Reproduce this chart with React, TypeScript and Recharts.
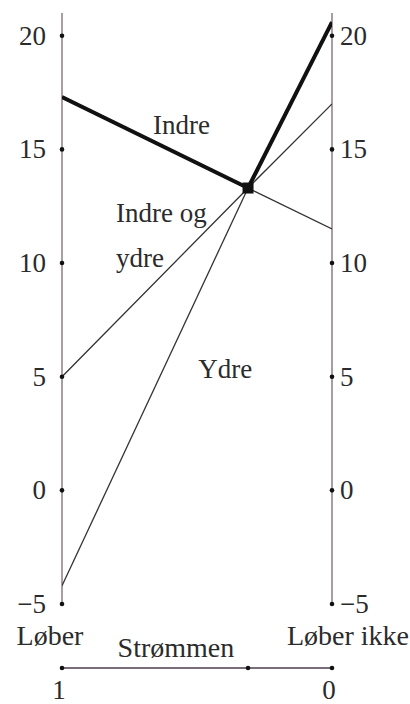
import React from 'react';
import { ComposedChart, Line, XAxis, YAxis, ReferenceLine, ReferenceDot, Scatter } from 'recharts';

// x: 1 = "Løber" (left), 0 = "Løber ikke" (right)
const positions = [1, 0.311, 0];
const indre = [17.3, 13.3, 11.5];
const indreOgYdre = [5, 13.3, 17];
const ydre = [-4.2, 13.3, 20.6];

const yTicks = [-5, 0, 5, 10, 15, 20];
const xTicks = [1, 0.311, 0];
const xTickLabels: Record<string, string> = { '1': '1', '0': '0' };

const meeting = [{ x: 0.311, y: 13.3 }];

const curveLabels = [
  { text: 'Indre', x: 0.663, y: 15.68 },
  { text: 'Indre og', x: 0.8, y: 11.81 },
  { text: 'ydre', x: 0.8, y: 9.83 },
  { text: 'Ydre', x: 0.495, y: 4.94 },
];

const bottomLabels = [
  { text: 'Løber', x: 1, y: -6.8, dx: -12 },
  { text: 'Strømmen', x: 0.578, y: -7.33, dx: 0 },
  { text: 'Løber ikke', x: 0, y: -6.8, dx: 16 },
];

const data = positions.map((x, i) => ({
  x,
  indreThick: i <= 1 ? indre[i] : null,
  indreThin: i >= 1 ? indre[i] : null,
  ioy: indreOgYdre[i],
  ydreThin: i <= 1 ? ydre[i] : null,
  ydreThick: i >= 1 ? ydre[i] : null,
}));

const FONT = "'Liberation Serif', 'Times New Roman', serif";
const TEXT = '#2b2b2b';
const AXIS = '#8b7d80';

const fmt = (v: number) => (v < 0 ? '\u2212' + Math.abs(v) : String(v));

const LeftTick = (p: any) => (
  <g>
    <circle cx={p.x} cy={p.y} r={2.3} fill="#111" />
    <text x={p.x - 16} y={p.y + 9} textAnchor="end" fontSize={27} fontFamily={FONT} fill={TEXT}>
      {fmt(p.payload.value)}
    </text>
  </g>
);

const RightTick = (p: any) => (
  <g>
    <circle cx={p.x} cy={p.y} r={2.3} fill="#111" />
    <text x={p.x + 8} y={p.y + 9} textAnchor="start" fontSize={27} fontFamily={FONT} fill={TEXT}>
      {fmt(p.payload.value)}
    </text>
  </g>
);

const BottomTick = (p: any) => {
  const key = String(Math.round(p.payload.value * 1000) / 1000);
  const lbl = xTickLabels[key];
  return (
    <g>
      <circle cx={p.x} cy={p.y} r={2.3} fill="#111" />
      {lbl ? (
        <text x={p.x - 3} y={p.y + 31} textAnchor="middle" fontSize={27} fontFamily={FONT} fill={TEXT}>
          {lbl}
        </text>
      ) : null}
    </g>
  );
};

const PlainLabel = (props: any) => {
  const vb = props.viewBox || {};
  const x = (vb.x || 0) + (vb.width || 0) / 2 + (props.dx || 0);
  const y = (vb.y || 0) + (vb.height || 0) / 2;
  return (
    <text x={x} y={y} textAnchor={props.anchor} fontSize={props.size} fontFamily={FONT} fill={TEXT}>
      {props.text}
    </text>
  );
};

export default function App() {
  return (
    <div style={{ position: 'absolute', left: 0, top: 0, width: 410, height: 704, background: '#fff', fontFamily: FONT }}>
      <ComposedChart width={410} height={704} data={data} margin={{ top: 13, right: 0, bottom: 0, left: 0 }}>
        <XAxis
          dataKey="x"
          type="number"
          domain={[0, 1]}
          reversed
          allowDataOverflow
          ticks={xTicks}
          interval={0}
          height={36}
          tickSize={0}
          tickMargin={0}
          tickLine={false}
          axisLine={{ stroke: '#4b3d4b', strokeWidth: 1.5 }}
          tick={<BottomTick />}
        />
        <YAxis
          yAxisId="l"
          orientation="left"
          type="number"
          domain={[-7.816, 21]}
          allowDataOverflow
          ticks={yTicks}
          interval={0}
          width={62}
          tickSize={0}
          tickMargin={0}
          tickLine={false}
          axisLine={false}
          tick={<LeftTick />}
        />
        <YAxis
          yAxisId="r"
          orientation="right"
          type="number"
          domain={[-7.816, 21]}
          allowDataOverflow
          ticks={yTicks}
          interval={0}
          width={78}
          tickSize={0}
          tickMargin={0}
          tickLine={false}
          axisLine={false}
          tick={<RightTick />}
        />
        <ReferenceLine yAxisId="l" segment={[{ x: 1, y: -5 }, { x: 1, y: 21 }]} stroke={AXIS} strokeWidth={1.5} />
        <ReferenceLine yAxisId="l" segment={[{ x: 0, y: -5 }, { x: 0, y: 21 }]} stroke={AXIS} strokeWidth={1.5} />
        <Line yAxisId="l" dataKey="indreThin" type="linear" stroke="#333" strokeWidth={1.3} dot={false} activeDot={false} isAnimationActive={false} />
        <Line yAxisId="l" dataKey="ioy" type="linear" stroke="#333" strokeWidth={1.3} dot={false} activeDot={false} isAnimationActive={false} />
        <Line yAxisId="l" dataKey="ydreThin" type="linear" stroke="#333" strokeWidth={1.3} dot={false} activeDot={false} isAnimationActive={false} />
        <Line yAxisId="l" dataKey="indreThick" type="linear" stroke="#111" strokeWidth={4} dot={false} activeDot={false} isAnimationActive={false} />
        <Line yAxisId="l" dataKey="ydreThick" type="linear" stroke="#111" strokeWidth={4} dot={false} activeDot={false} isAnimationActive={false} />
        <Scatter
          yAxisId="l"
          data={meeting}
          dataKey="y"
          isAnimationActive={false}
          shape={(p: any) => <rect x={p.cx - 5.5} y={p.cy - 5.5} width={11} height={11} fill="#111" />}
        />
        {curveLabels.map((l) => (
          <ReferenceDot
            key={l.text}
            yAxisId="l"
            x={l.x}
            y={l.y}
            r={0}
            fill="none"
            stroke="none"
            ifOverflow="visible"
            label={<PlainLabel text={l.text} anchor="start" size={27} />}
          />
        ))}
        {bottomLabels.map((l) => (
          <ReferenceDot
            key={l.text}
            yAxisId="l"
            x={l.x}
            y={l.y}
            r={0}
            fill="none"
            stroke="none"
            ifOverflow="visible"
            label={<PlainLabel text={l.text} anchor="middle" size={28} dx={l.dx} />}
          />
        ))}
      </ComposedChart>
    </div>
  );
}
